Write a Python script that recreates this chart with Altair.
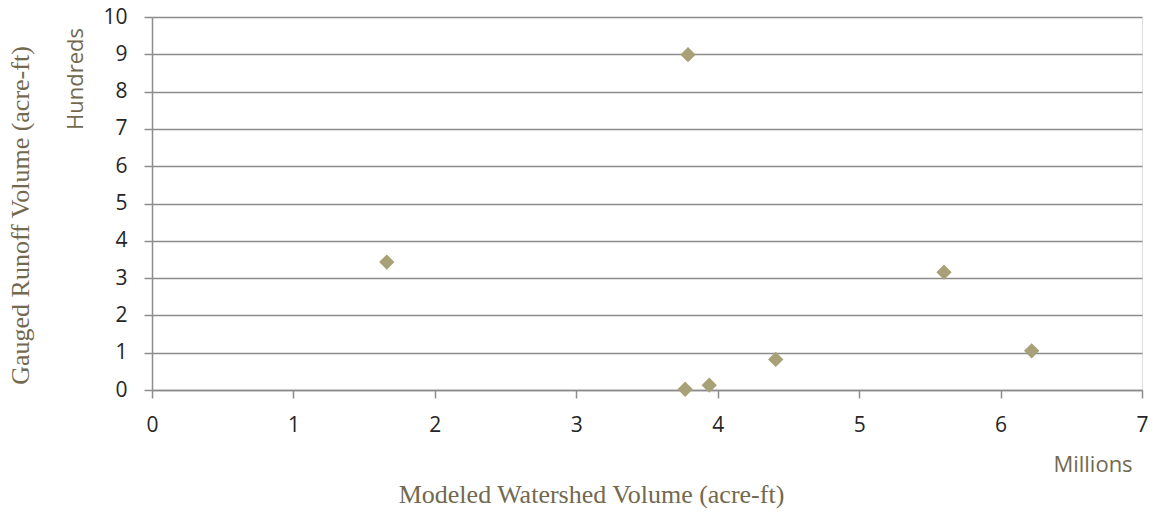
import altair as alt
import pandas as pd

# Modeled watershed volume (millions of acre-ft) and gauged runoff (hundreds of acre-ft)
modeled_millions = [1.66, 3.77, 3.79, 3.94, 4.41, 5.60, 6.22]
gauged_hundreds = [3.43, 0.02, 8.99, 0.13, 0.82, 3.16, 1.05]

x_ticks = [0, 1, 2, 3, 4, 5, 6, 7]
y_ticks = [0, 1, 2, 3, 4, 5, 6, 7, 8, 9, 10]

x_title = "Modeled Watershed Volume (acre-ft)"
y_title = "Gauged Runoff Volume (acre-ft)"
x_unit = "Millions"
y_unit = "Hundreds"

df = pd.DataFrame({"x": modeled_millions, "y": gauged_hundreds})

GRID = "#8c8c8c"
TITLE_COLOR = "#72694f"
LABEL_COLOR = "#262626"
SANS = "Open Sans"
SERIF = "Liberation Serif"

W, H = 990, 373

points = alt.Chart(df).mark_point(
    shape="diamond", filled=True, size=235, color="#a8a077", opacity=1
).encode(
    x=alt.X("x:Q", scale=alt.Scale(domain=[0, 7], nice=False, zero=True),
            axis=alt.Axis(values=x_ticks, title=x_title, grid=False,
                          domainColor=GRID, domainWidth=1.5,
                          tickColor=GRID, tickWidth=1.5, tickSize=8,
                          labelFont=SANS, labelFontSize=21, labelColor=LABEL_COLOR,
                          labelPadding=16, labelFlush=False,
                          titleFont=SERIF, titleFontSize=26, titleFontWeight="normal",
                          titleColor=TITLE_COLOR, titleX=439, titleY=104,
                          titleBaseline="middle")),
    y=alt.Y("y:Q", scale=alt.Scale(domain=[0, 10], nice=False, zero=True),
            axis=alt.Axis(values=y_ticks, title=y_title, grid=True,
                          gridColor=GRID, gridWidth=1.5,
                          domainColor=GRID, domainWidth=1.5,
                          tickColor=GRID, tickWidth=1.5, tickSize=8,
                          labelFont=SANS, labelFontSize=21, labelColor=LABEL_COLOR,
                          labelPadding=17, labelFlush=False,
                          titleFont=SERIF, titleFontSize=26, titleFontWeight="normal",
                          titleColor=TITLE_COLOR, titleX=-132, titleY=198,
                          titleBaseline="middle", titleAngle=-90)),
)

unit_y = alt.Chart(pd.DataFrame({"t": [y_unit]})).mark_text(
    angle=270, font=SANS, fontSize=22, color=TITLE_COLOR, baseline="middle", align="center"
).encode(text="t:N", x=alt.value(-76), y=alt.value(62))

unit_x = alt.Chart(pd.DataFrame({"t": [x_unit]})).mark_text(
    font=SANS, fontSize=22, color=TITLE_COLOR, baseline="middle", align="center"
).encode(text="t:N", x=alt.value(941), y=alt.value(448))

chart = alt.layer(points, unit_y, unit_x).properties(
    width=W, height=H,
    autosize=alt.AutoSizeParams(type="none"),
    padding={"left": 152, "top": 17, "right": 13, "bottom": 124},
).configure_view(stroke=None).configure(background="white")

chart.save("out.html", embed_options={"renderer": "svg", "actions": False})
